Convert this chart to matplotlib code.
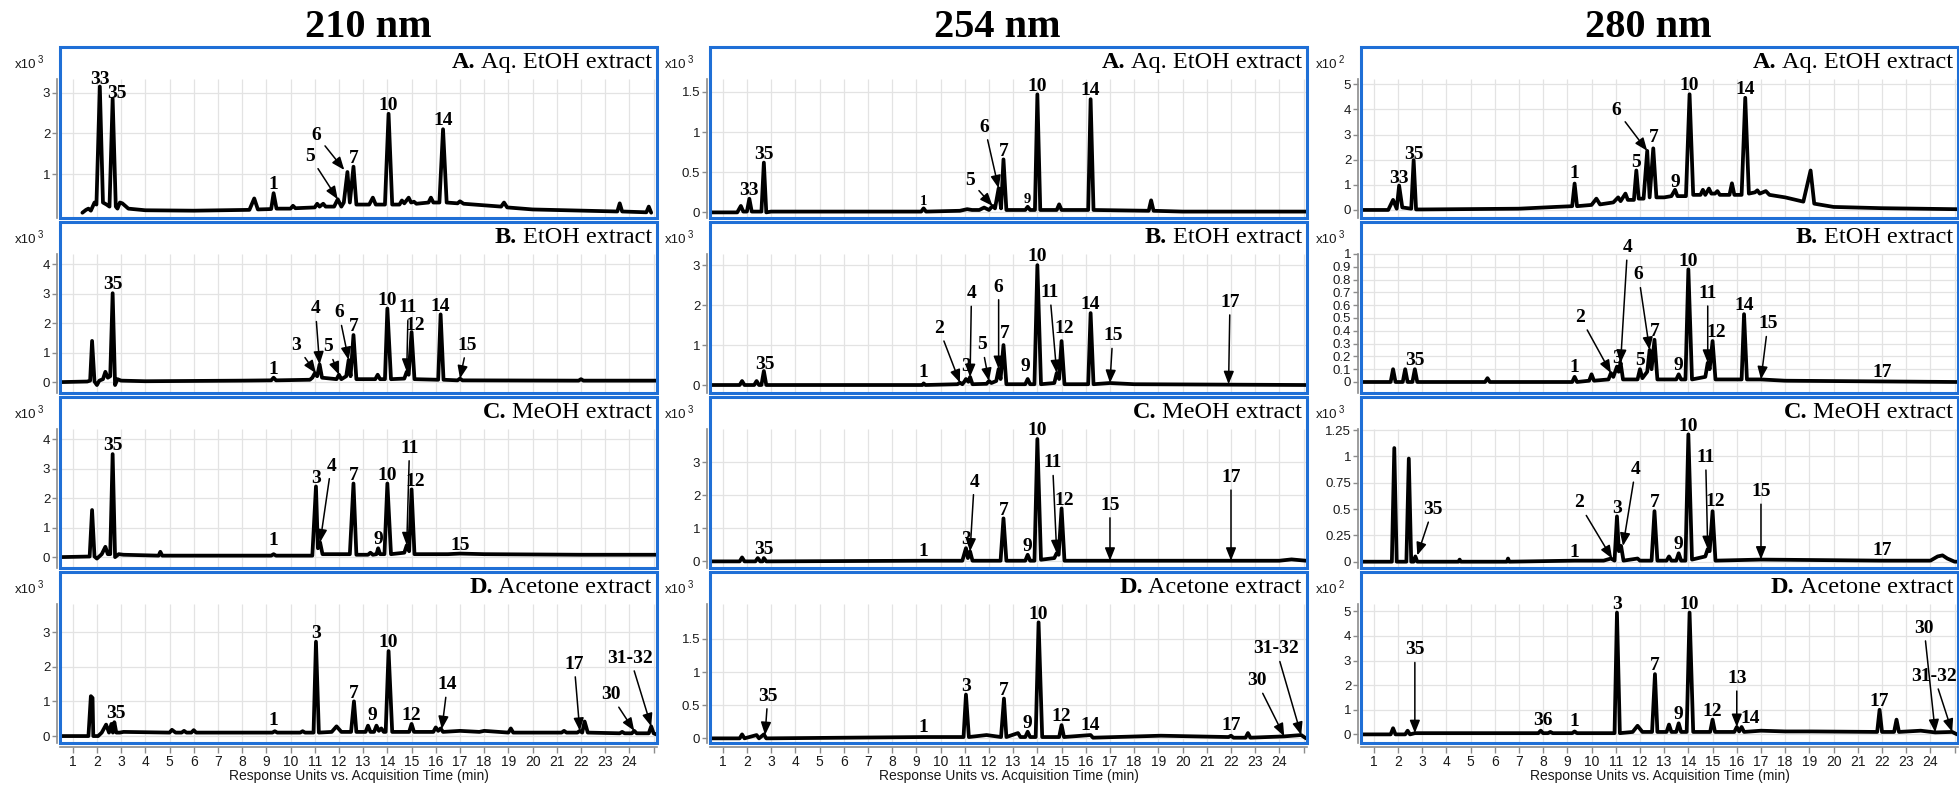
import numpy as np
import matplotlib
matplotlib.use('agg')
import matplotlib.pyplot as plt
from matplotlib.patches import Rectangle

plt.rcParams['font.family'] = 'Liberation Sans'

# ---------------- chromatogram traces: (time min, response) ----------------
# 210 nm
tr_210a = [(1.4, 0.05), (1.55, 0.12), (1.65, 0.15), (1.75, 0.1), (1.9, 0.3), (1.98, 0.25), (2.12, 3.15),
           (2.25, 0.3), (2.4, 0.25), (2.52, 0.2), (2.65, 2.85), (2.78, 0.2), (2.85, 0.15), (2.95, 0.3),
           (3.05, 0.28), (3.3, 0.15), (4, 0.11), (6, 0.1), (8.3, 0.12), (8.5, 0.4), (8.65, 0.13),
           (9.2, 0.14), (9.3, 0.53), (9.42, 0.15), (10.0, 0.15), (10.1, 0.22), (10.2, 0.16), (11.0, 0.18),
           (11.1, 0.27), (11.2, 0.2), (11.35, 0.27), (11.45, 0.2), (11.8, 0.2), (11.95, 0.38), (12.1, 0.2),
           (12.2, 0.3), (12.35, 1.05), (12.45, 0.3), (12.6, 1.18), (12.72, 0.25), (13.25, 0.25),
           (13.4, 0.42), (13.52, 0.25), (13.9, 0.25), (14.05, 2.48), (14.2, 0.25), (14.5, 0.25),
           (14.6, 0.35), (14.7, 0.28), (14.88, 0.42), (14.98, 0.3), (15.1, 0.32), (15.2, 0.27),
           (15.7, 0.3), (15.8, 0.42), (15.9, 0.3), (16.15, 0.3), (16.3, 2.1), (16.45, 0.3), (16.9, 0.28),
           (17.0, 0.33), (17.15, 0.27), (18.7, 0.2), (18.82, 0.3), (18.95, 0.18), (20, 0.13), (23.5, 0.08),
           (23.6, 0.28), (23.7, 0.08), (24.7, 0.06), (24.8, 0.2), (24.9, 0.05)]
tr_210b = [(0.5, 0.0), (1.6, 0.02), (1.72, 0.05), (1.8, 1.4), (1.9, 0.02), (2.0, -0.1), (2.1, 0.05),
           (2.25, 0.1), (2.35, 0.35), (2.45, 0.15), (2.55, 0.2), (2.65, 3.02), (2.75, -0.1), (2.85, 0.1),
           (3.0, 0.05), (4, 0.03), (8, 0.05), (9.2, 0.06), (9.3, 0.15), (9.4, 0.06), (10.8, 0.08),
           (10.9, 0.15), (11.0, 0.3), (11.1, 0.2), (11.2, 0.6), (11.3, 0.15), (11.9, 0.1), (12.0, 0.25),
           (12.1, 0.1), (12.3, 0.2), (12.4, 0.75), (12.48, 0.2), (12.6, 1.6), (12.72, 0.1), (13.5, 0.1),
           (13.6, 0.25), (13.7, 0.1), (13.9, 0.1), (14.0, 2.5), (14.15, 0.1), (14.7, 0.12), (14.8, 0.35),
           (14.88, 0.25), (15.0, 1.7), (15.12, 0.1), (16.1, 0.08), (16.2, 2.3), (16.32, 0.08),
           (16.9, 0.06), (17.0, 0.12), (17.1, 0.06), (21.9, 0.05), (22.0, 0.1), (22.1, 0.05), (25.1, 0.05)]
tr_210c = [(0.5, 0.0), (1.7, 0.02), (1.8, 1.6), (1.9, 0.02), (2.0, -0.05), (2.2, 0.1), (2.35, 0.35),
           (2.45, 0.1), (2.55, 0.1), (2.65, 3.5), (2.75, 0.0), (2.9, 0.1), (3.1, 0.08), (4.55, 0.05),
           (4.62, 0.18), (4.7, 0.05), (8, 0.05), (9.2, 0.05), (9.3, 0.1), (9.4, 0.05), (10.9, 0.05),
           (11.05, 2.4), (11.13, 0.3), (11.22, 0.5), (11.32, 0.1), (12.45, 0.1), (12.6, 2.5),
           (12.72, 0.08), (13.2, 0.08), (13.3, 0.15), (13.4, 0.08), (13.55, 0.1), (13.62, 0.3),
           (13.7, 0.1), (13.88, 0.1), (14.0, 2.5), (14.15, 0.1), (14.7, 0.15), (14.8, 0.4), (14.9, 0.2),
           (15.0, 2.3), (15.12, 0.1), (16.5, 0.1), (17.0, 0.12), (18, 0.1), (22, 0.08), (25.1, 0.08)]
tr_210d = [(0.5, 0.0), (1.65, 0.0), (1.75, 1.15), (1.82, 1.1), (1.85, 0.0), (2.05, 0.0), (2.2, 0.1),
           (2.38, 0.33), (2.5, 0.1), (2.6, 0.35), (2.66, 0.1), (2.72, 0.4), (2.8, 0.1), (2.95, 0.1),
           (3.1, 0.12), (5.0, 0.1), (5.1, 0.18), (5.25, 0.1), (5.5, 0.1), (5.6, 0.15), (5.7, 0.1),
           (5.9, 0.1), (6.0, 0.17), (6.1, 0.1), (9.25, 0.1), (9.35, 0.14), (9.45, 0.1), (10.4, 0.1),
           (10.5, 0.14), (10.6, 0.1), (10.95, 0.1), (11.05, 2.72), (11.17, 0.1), (11.7, 0.12),
           (11.9, 0.28), (12.1, 0.12), (12.5, 0.12), (12.62, 1.0), (12.72, 0.12), (13.1, 0.12),
           (13.2, 0.3), (13.3, 0.12), (13.45, 0.12), (13.55, 0.3), (13.65, 0.15), (13.75, 0.22),
           (13.85, 0.12), (13.93, 0.12), (14.05, 2.45), (14.2, 0.12), (14.9, 0.12), (15.0, 0.35),
           (15.1, 0.12), (15.9, 0.12), (16.0, 0.25), (16.1, 0.15), (16.2, 0.22), (16.3, 0.12),
           (17.0, 0.15), (17.8, 0.12), (18.0, 0.15), (18.6, 0.12), (19.0, 0.1), (19.1, 0.22), (19.2, 0.1),
           (21.2, 0.1), (21.3, 0.15), (21.4, 0.1), (21.85, 0.1), (21.95, 0.15), (22.05, 0.1),
           (22.15, 0.42), (22.28, 0.1), (23.6, 0.08), (23.7, 0.12), (23.8, 0.08), (24.1, 0.08),
           (24.2, 0.15), (24.3, 0.08), (24.8, 0.08), (24.9, 0.28), (25.0, 0.08), (25.1, 0.05)]
# 254 nm
tr_254a = [(0.5, 0.0), (1.6, 0.0), (1.75, 0.08), (1.85, 0.01), (2.0, 0.01), (2.1, 0.17), (2.2, 0.01),
           (2.6, 0.01), (2.7, 0.62), (2.8, 0.0), (3.0, 0.01), (8, 0.01), (9.2, 0.01), (9.3, 0.05),
           (9.4, 0.01), (10.8, 0.02), (11.1, 0.04), (11.3, 0.03), (11.6, 0.03), (11.8, 0.06), (12.0, 0.03),
           (12.15, 0.08), (12.25, 0.05), (12.4, 0.3), (12.5, 0.05), (12.6, 0.66), (12.72, 0.03),
           (13.5, 0.03), (13.6, 0.07), (13.7, 0.03), (13.9, 0.03), (14.0, 1.47), (14.12, 0.03),
           (14.8, 0.03), (14.9, 0.1), (15.0, 0.03), (16.1, 0.03), (16.2, 1.41), (16.32, 0.03),
           (18.6, 0.02), (18.7, 0.15), (18.8, 0.02), (20, 0.01), (25.1, 0.01)]
tr_254b = [(0.5, 0.0), (1.7, 0.0), (1.8, 0.1), (1.9, 0.0), (2.3, 0.0), (2.4, 0.1), (2.5, 0.0), (2.6, 0.0),
           (2.7, 0.35), (2.8, 0.0), (8, 0.0), (9.25, 0.0), (9.3, 0.04), (9.38, 0.0), (10.7, 0.02),
           (10.8, 0.06), (10.9, 0.02), (11.0, 0.1), (11.05, 0.15), (11.15, 0.08), (11.22, 0.2),
           (11.32, 0.02), (11.9, 0.03), (12.0, 0.1), (12.1, 0.05), (12.3, 0.1), (12.4, 0.4), (12.48, 0.15),
           (12.6, 1.0), (12.72, 0.02), (13.5, 0.02), (13.6, 0.15), (13.7, 0.02), (13.88, 0.02),
           (14.0, 3.0), (14.15, 0.02), (14.7, 0.05), (14.8, 0.3), (14.9, 0.15), (15.0, 1.1), (15.12, 0.02),
           (16.1, 0.02), (16.2, 1.8), (16.32, 0.02), (17.0, 0.05), (18, 0.02), (25.1, 0.0)]
tr_254c = [(0.5, 0.0), (1.7, 0.0), (1.8, 0.12), (1.9, 0.0), (2.35, 0.0), (2.45, 0.1), (2.55, 0.0),
           (2.65, 0.0), (2.7, 0.1), (2.8, 0.0), (9.3, 0.02), (10.9, 0.02), (11.05, 0.4), (11.13, 0.1),
           (11.22, 0.3), (11.32, 0.02), (12.48, 0.02), (12.6, 1.3), (12.72, 0.02), (13.5, 0.02),
           (13.6, 0.2), (13.7, 0.02), (13.88, 0.02), (14.0, 3.7), (14.15, 0.05), (14.7, 0.1), (14.8, 0.25),
           (14.88, 0.2), (15.0, 1.6), (15.12, 0.02), (17, 0.02), (24.0, 0.02), (24.5, 0.06), (24.8, 0.04),
           (25.1, 0.02)]
tr_254d = [(0.5, 0.0), (1.7, 0.0), (1.8, 0.06), (1.9, 0.0), (2.4, 0.05), (2.5, 0.0), (2.7, 0.06),
           (2.8, 0.0), (9.3, 0.02), (10.95, 0.02), (11.05, 0.66), (11.17, 0.02), (11.9, 0.05),
           (12.5, 0.02), (12.62, 0.6), (12.72, 0.02), (13.2, 0.08), (13.3, 0.02), (13.5, 0.02),
           (13.6, 0.1), (13.7, 0.02), (13.93, 0.02), (14.05, 1.75), (14.2, 0.02), (14.9, 0.02),
           (15.0, 0.2), (15.1, 0.02), (16.2, 0.05), (16.3, 0.01), (19.1, 0.04), (21.9, 0.02), (22.0, 0.04),
           (22.1, 0.01), (22.6, 0.01), (22.7, 0.08), (22.8, 0.01), (24.2, 0.03), (24.9, 0.05), (25.1, 0.0)]
# 280 nm
tr_280a = [(0.5, 0.0), (1.6, 0.0), (1.8, 0.4), (1.95, 0.05), (2.05, 0.97), (2.18, 0.1), (2.55, 0.05),
           (2.65, 1.98), (2.75, 0.02), (3.0, 0.02), (7, 0.05), (8.5, 0.12), (9.2, 0.15), (9.3, 1.05),
           (9.4, 0.15), (10.0, 0.2), (10.2, 0.45), (10.35, 0.22), (10.9, 0.3), (11.1, 0.5), (11.2, 0.35),
           (11.4, 0.65), (11.5, 0.4), (11.75, 0.4), (11.85, 1.57), (11.95, 0.45), (12.15, 0.45),
           (12.3, 2.35), (12.4, 0.5), (12.55, 2.45), (12.68, 0.5), (13.0, 0.5), (13.3, 0.55),
           (13.45, 0.8), (13.55, 0.55), (13.9, 0.55), (14.05, 4.6), (14.2, 0.6), (14.5, 0.6), (14.6, 0.8),
           (14.7, 0.6), (14.85, 0.85), (14.95, 0.65), (15.1, 0.65), (15.2, 0.75), (15.3, 0.6), (15.7, 0.6),
           (15.8, 1.06), (15.9, 0.6), (16.2, 0.6), (16.35, 4.46), (16.5, 0.65), (16.75, 0.7),
           (16.85, 0.78), (16.95, 0.65), (17.2, 0.75), (17.35, 0.6), (18.0, 0.5), (18.75, 0.33),
           (19.05, 1.57), (19.2, 0.25), (20, 0.12), (22, 0.07), (25.1, 0.03)]
tr_280b = [(0.5, 0.0), (1.7, 0.0), (1.8, 0.1), (1.9, 0.0), (2.2, 0.0), (2.3, 0.1), (2.4, 0.0), (2.6, 0.0),
           (2.7, 0.1), (2.8, 0.0), (5.6, 0.0), (5.7, 0.03), (5.8, 0.0), (9.2, 0.0), (9.3, 0.04), (9.4, 0.0),
           (9.9, 0.01), (10.0, 0.06), (10.1, 0.01), (10.7, 0.02), (10.8, 0.07), (10.9, 0.04),
           (11.05, 0.12), (11.12, 0.08), (11.2, 0.15), (11.3, 0.02), (11.9, 0.02), (12.0, 0.1),
           (12.1, 0.03), (12.3, 0.08), (12.4, 0.25), (12.48, 0.1), (12.6, 0.33), (12.72, 0.02),
           (13.5, 0.02), (13.6, 0.06), (13.7, 0.02), (13.88, 0.02), (14.0, 0.88), (14.15, 0.02),
           (14.7, 0.04), (14.8, 0.15), (14.88, 0.1), (15.0, 0.32), (15.12, 0.02), (16.2, 0.02),
           (16.3, 0.53), (16.42, 0.02), (17.0, 0.02), (18, 0.01), (25.1, 0.0)]
tr_280c = [(0.5, 0.0), (1.75, 0.0), (1.85, 1.08), (1.95, 0.0), (2.35, 0.0), (2.45, 0.98), (2.55, 0.0),
           (2.65, 0.0), (2.72, 0.05), (2.8, 0.0), (4.5, 0.0), (4.55, 0.02), (4.6, 0.0), (6.5, 0.0),
           (6.55, 0.03), (6.6, 0.0), (9.3, 0.01), (10.5, 0.01), (10.8, 0.03), (10.95, 0.01), (11.05, 0.43),
           (11.13, 0.1), (11.22, 0.15), (11.32, 0.01), (11.9, 0.03), (12.0, 0.01), (12.48, 0.01),
           (12.6, 0.48), (12.72, 0.01), (13.1, 0.01), (13.2, 0.05), (13.3, 0.01), (13.5, 0.01),
           (13.6, 0.08), (13.7, 0.01), (13.88, 0.01), (14.0, 1.21), (14.15, 0.02), (14.7, 0.05),
           (14.8, 0.12), (14.88, 0.1), (15.0, 0.48), (15.12, 0.01), (17.0, 0.02), (22.0, 0.01),
           (24.0, 0.01), (24.3, 0.05), (24.5, 0.06), (24.7, 0.03), (25.0, 0.0), (25.1, 0.0)]
tr_280d = [(0.5, 0.0), (1.7, 0.0), (1.8, 0.25), (1.9, 0.0), (2.3, 0.0), (2.4, 0.15), (2.5, 0.0),
           (2.7, 0.05), (7.8, 0.05), (7.9, 0.15), (8.0, 0.05), (8.2, 0.05), (8.3, 0.1), (8.4, 0.05),
           (9.2, 0.05), (9.3, 0.12), (9.4, 0.05), (10.95, 0.05), (11.05, 4.95), (11.17, 0.05), (11.7, 0.1),
           (11.9, 0.35), (12.1, 0.1), (12.5, 0.1), (12.62, 2.45), (12.72, 0.1), (13.1, 0.1), (13.2, 0.4),
           (13.3, 0.1), (13.5, 0.1), (13.6, 0.45), (13.7, 0.1), (13.93, 0.1), (14.05, 4.95), (14.2, 0.1),
           (14.9, 0.1), (15.0, 0.6), (15.1, 0.1), (15.9, 0.1), (16.0, 0.3), (16.1, 0.12), (16.2, 0.3),
           (16.3, 0.1), (17.0, 0.15), (18.0, 0.12), (19.1, 0.12), (21.8, 0.1), (21.9, 1.0), (22.0, 0.1),
           (22.5, 0.1), (22.6, 0.6), (22.7, 0.1), (23.6, 0.15), (24.2, 0.08), (24.9, 0.1), (25.1, 0.0)]

# ---------------- peak labels: (compound no., time, response at label target) ----------------
pk_210a = [('33', 2.12, 3.15), ('35', 2.65, 2.85), ('1', 9.3, 0.53), ('5', 11.95, 0.38),
           ('6', 12.22, 1.1), ('7', 12.6, 1.18), ('10', 14.05, 2.48), ('14', 16.3, 2.1)]
pk_210b = [('35', 2.65, 3.02), ('1', 9.3, 0.15), ('3', 11.05, 0.3), ('4', 11.2, 0.6), ('5', 12.0, 0.25),
           ('6', 12.4, 0.75), ('7', 12.6, 1.6), ('10', 14.0, 2.5), ('11', 14.8, 0.35), ('12', 15.0, 1.7),
           ('14', 16.2, 2.3), ('15', 17.0, 0.12)]
pk_210c = [('35', 2.65, 3.5), ('1', 9.3, 0.1), ('3', 11.05, 2.4), ('4', 11.22, 0.5), ('7', 12.6, 2.5),
           ('9', 13.62, 0.3), ('10', 14.0, 2.5), ('11', 14.8, 0.4), ('12', 15.0, 2.3), ('15', 17.0, 0.12)]
pk_210d = [('35', 2.72, 0.4), ('1', 9.3, 0.14), ('3', 11.05, 2.72), ('7', 12.62, 1.0), ('9', 13.55, 0.3),
           ('10', 14.05, 2.45), ('12', 15.0, 0.35), ('14', 16.25, 0.2), ('17', 21.95, 0.15),
           ('30', 24.2, 0.15), ('31-32', 24.9, 0.28)]
pk_254a = [('33', 2.1, 0.17), ('35', 2.7, 0.62), ('1', 9.3, 0.05), ('5', 12.15, 0.08), ('6', 12.4, 0.3),
           ('7', 12.6, 0.66), ('9', 13.6, 0.07), ('10', 14.0, 1.47), ('14', 16.2, 1.41)]
pk_254b = [('35', 2.7, 0.35), ('1', 9.3, 0.04), ('2', 10.8, 0.06), ('3', 11.05, 0.15), ('4', 11.22, 0.2),
           ('5', 12.0, 0.1), ('6', 12.4, 0.4), ('7', 12.6, 1.0), ('9', 13.6, 0.15), ('10', 14.0, 3.0),
           ('11', 14.8, 0.3), ('12', 15.0, 1.1), ('14', 16.2, 1.8), ('15', 17.0, 0.05), ('17', 21.9, 0.02)]
pk_254c = [('35', 2.7, 0.1), ('1', 9.3, 0.02), ('3', 11.05, 0.4), ('4', 11.22, 0.3), ('7', 12.6, 1.3),
           ('9', 13.6, 0.2), ('10', 14.0, 3.7), ('11', 14.8, 0.25), ('12', 15.0, 1.6), ('15', 17.0, 0.02),
           ('17', 22.0, 0.02)]
pk_254d = [('35', 2.75, 0.05), ('1', 9.3, 0.02), ('3', 11.05, 0.66), ('7', 12.62, 0.6), ('9', 13.6, 0.1),
           ('10', 14.05, 1.75), ('12', 15.0, 0.2), ('14', 16.2, 0.05), ('17', 22.0, 0.04), ('30', 24.2, 0.03),
           ('31-32', 24.9, 0.05)]
pk_280a = [('33', 2.05, 0.97), ('35', 2.65, 1.98), ('1', 9.3, 1.05), ('5', 11.85, 1.57), ('6', 12.3, 2.35),
           ('7', 12.55, 2.45), ('9', 13.45, 0.8), ('10', 14.05, 4.6), ('14', 16.35, 4.46)]
pk_280b = [('35', 2.7, 0.1), ('1', 9.3, 0.04), ('2', 10.8, 0.07), ('3', 11.05, 0.12), ('4', 11.2, 0.15),
           ('5', 12.0, 0.1), ('6', 12.4, 0.25), ('7', 12.6, 0.33), ('9', 13.6, 0.06), ('10', 14.0, 0.88),
           ('11', 14.8, 0.15), ('12', 15.0, 0.32), ('14', 16.3, 0.53), ('15', 17.0, 0.02), ('17', 22.0, 0.0)]
pk_280c = [('35', 2.8, 0.06), ('1', 9.3, 0.01), ('2', 10.85, 0.03), ('3', 11.05, 0.43), ('4', 11.3, 0.15),
           ('7', 12.6, 0.48), ('9', 13.6, 0.08), ('10', 14.0, 1.21), ('11', 14.8, 0.12), ('12', 15.0, 0.48),
           ('15', 17.0, 0.02), ('17', 22.0, 0.01)]
pk_280d = [('35', 2.7, 0.05), ('36', 8.0, 0.15), ('1', 9.3, 0.12), ('3', 11.05, 4.95), ('7', 12.62, 2.45),
           ('9', 13.6, 0.45), ('10', 14.05, 4.95), ('12', 15.0, 0.6), ('13', 16.0, 0.3), ('14', 16.2, 0.3),
           ('17', 21.9, 1.0), ('30', 24.2, 0.08), ('31-32', 24.9, 0.1)]

# y ticks and scale exponent of each panel
yt_210 = [[1, 2, 3], [0, 1, 2, 3, 4], [0, 1, 2, 3, 4], [0, 1, 2, 3]]
yt_254 = [[0, 0.5, 1, 1.5], [0, 1, 2, 3], [0, 1, 2, 3], [0, 0.5, 1, 1.5]]
yt_280 = [[0, 1, 2, 3, 4, 5], [0, 0.1, 0.2, 0.3, 0.4, 0.5, 0.6, 0.7, 0.8, 0.9, 1],
          [0, 0.25, 0.5, 0.75, 1, 1.25], [0, 1, 2, 3, 4, 5]]
exp_210 = [3, 3, 3, 3]
exp_254 = [3, 3, 3, 3]
exp_280 = [2, 3, 3, 2]

wavelengths = ['210 nm', '254 nm', '280 nm']
titles = [('A.', 'Aq. EtOH extract'), ('B.', 'EtOH extract'), ('C.', 'MeOH extract'), ('D.', 'Acetone extract')]

# ---------------- layout (pixels / points) ----------------
W, H = 1959, 786
box_left = [60, 710, 1361]
box_top = [47, 222, 397, 572]
BW, BH = 597, 171
XLIM = (0.475, 25.14)
head_x = [368, 997, 1648]
ylims = [[(-0.08, 4.12), (-0.37, 5.44), (-0.37, 5.44), (-0.2, 4.73)],
         [(-0.07, 2.06), (-0.2, 4.08), (-0.2, 4.97), (-0.07, 2.51)],
         [(-0.32, 6.48), (-0.086, 1.25), (-0.06, 1.565), (-0.35, 6.6)]]

# label placement: label -> (dx pt, dy pt, arrow[, fontsize]); unlisted labels sit just above their peak
place = {
    (0, 0): {'35': (3, 4, False), '33': (0, 5, False), '5': (-20, 31, True), '6': (-20, 25, True)},
    (0, 1): {'3': (-14, 20, True), '4': (-3, 40, True), '5': (-8, 20, True), '6': (-7, 34, True),
             '11': (1, 46, True), '12': (3, 5, False), '15': (5, 24, True)},
    (0, 2): {'1': (0, 10, False), '4': (8, 55, True), '11': (2, 70, True), '12': (3, 6, False)},
    (0, 3): {'35': (1, 6, False), '1': (0, 8, False), '9': (-3, 7, False), '14': (4, 32, True),
             '17': (-4, 48, True), '30': (-17, 26, True), '31-32': (-15, 49, True)},
    (1, 0): {'1': (0, 5, False, 10.5), '9': (0, 5, False, 10.5), '5': (-16, 18, True),
             '6': (-10, 44, True)},
    (1, 1): {'35': (1, 5, False), '1': (0, 8, False), '2': (-15, 39, True), '3': (0, 9, False),
             '4': (1, 60, True), '5': (-5, 26, True), '6': (0, 59, True), '7': (1, 8, False),
             '9': (-2, 9, False), '11': (-5, 58, True), '12': (2, 9, False), '15': (2, 34, True),
             '17': (1, 59, True)},
    (1, 2): {'1': (0, 7, False), '4': (3, 50, True), '11': (-3, 65, True), '12': (2, 6, False),
             '15': (0, 40, True), '17': (0, 60, True)},
    (1, 3): {'35': (2, 28, True), '1': (0, 7, False), '14': (0, 7, False), '17': (0, 7, False),
             '30': (-20, 40, True), '31-32': (-18, 62, True)},
    (2, 0): {'33': (0, 5, False), '35': (0, 4, False), '1': (0, 7, False), '6': (-22, 29, True),
             '7': (0, 8, False), '9': (0, 5, False)},
    (2, 1): {'1': (0, 7, False), '2': (-22, 40, True), '4': (5, 83, True), '6': (-8, 54, True),
             '11': (0, 50, True), '12': (3, 6, False), '15': (5, 40, True), '17': (0, 7, False)},
    (2, 2): {'35': (11, 33, True), '1': (0, 6, False), '2': (-24, 40, True), '4': (9, 55, True),
             '11': (-1.5, 66, True), '12': (2, 7, False), '15': (0, 49, True), '17': (0, 7, False)},
    (2, 3): {'35': (0, 60, True), '36': (0, 7, False), '1': (0, 7, False), '13': (0, 35, True),
             '14': (6, 6, False), '30': (-8, 75, True), '31-32': (-13, 40, True)},
}

traces = [[tr_210a, tr_210b, tr_210c, tr_210d], [tr_254a, tr_254b, tr_254c, tr_254d],
          [tr_280a, tr_280b, tr_280c, tr_280d]]
peaks = [[pk_210a, pk_210b, pk_210c, pk_210d], [pk_254a, pk_254b, pk_254c, pk_254d],
         [pk_280a, pk_280b, pk_280c, pk_280d]]
yticks = [yt_210, yt_254, yt_280]
exps = [exp_210, exp_254, exp_280]

GRID = '#e3e3e3'
AXC = '#8c8c8c'
BLUE = '#1f6fd6'

fig = plt.figure(figsize=(W / 100, H / 100), dpi=100)

for c in range(3):
    for r in range(4):
        L, T = box_left[c], box_top[r]
        ax = fig.add_axes([L / W, 1 - (T + BH) / H, BW / W, BH / H])
        lo, hi = ylims[c][r]
        top = lo + 0.815 * (hi - lo)
        ax.set_xlim(*XLIM)
        ax.set_ylim(lo, hi)

        ax.vlines(np.arange(1, 26), lo, top, color=GRID, lw=0.9, zorder=0)
        ax.hlines(yticks[c][r], XLIM[0], XLIM[1], color=GRID, lw=0.9, zorder=0)

        t, y = zip(*traces[c][r])
        ax.plot(t, y, color='k', lw=2.7, solid_joinstyle='round', solid_capstyle='round', zorder=2)

        # axes
        for s in ['top', 'right', 'bottom']:
            ax.spines[s].set_visible(False)
        ax.spines['left'].set_position(('outward', 2))
        ax.spines['left'].set_color(AXC)
        ax.spines['left'].set_linewidth(1.2)
        ax.spines['left'].set_bounds(lo, top)
        ax.set_yticks(yticks[c][r])
        ax.set_yticklabels(['%g' % v for v in yticks[c][r]])
        ax.tick_params(axis='y', length=3.5, width=1, color=AXC, pad=1.5, labelsize=9.5,
                       labelcolor='#1a1a1a')
        if r == 3:
            ax.spines['bottom'].set_visible(True)
            ax.spines['bottom'].set_position(('outward', 3))
            ax.spines['bottom'].set_color(AXC)
            ax.spines['bottom'].set_linewidth(1.2)
            ax.set_xticks(range(1, 26))
            ax.set_xticklabels([str(i) for i in range(1, 25)] + [''])
            ax.tick_params(axis='x', length=4, width=1, color=AXC, pad=2, labelsize=10,
                           labelcolor='#1a1a1a')
        else:
            ax.set_xticks([])

        ax.add_patch(Rectangle((0, 0), 1, 1, transform=ax.transAxes, fill=False, ec=BLUE, lw=2.2,
                               clip_on=False, zorder=6))

        # scale factor
        ax.text(-45 / BW, 1 - 18 / BH, 'x10', transform=ax.transAxes, fontsize=9.5, ha='left',
                va='center', color='#1a1a1a')
        ax.text(-22 / BW, 1 - 13 / BH, str(exps[c][r]), transform=ax.transAxes, fontsize=7, ha='left',
                va='center', color='#1a1a1a')

        # panel title: regular name, bold letter placed one space to its left
        letter, name = titles[r]
        ttl = ax.text(1 - 5 / BW, 1 - 21 / BH, name, transform=ax.transAxes, ha='right', va='baseline',
                      fontsize=17.5, family='Liberation Serif', zorder=7)
        ax.annotate(letter, xy=(0, 0), xycoords=ttl, xytext=(-4.2, 0), textcoords='offset points',
                    ha='right', va='bottom', fontsize=17.5, fontweight='bold', family='Liberation Serif',
                    zorder=7)

        # peak labels
        pl = place[(c, r)]
        for lab, px, py in peaks[c][r]:
            spec = pl.get(lab, (0, 6, False))
            dx, dy, arrow = spec[:3]
            fs = spec[3] if len(spec) > 3 else 14
            kw = {}
            if arrow:
                kw['arrowprops'] = dict(arrowstyle='-|>,head_length=0.55,head_width=0.22', lw=1.1,
                                        color='k', shrinkA=1, shrinkB=0)
            ax.annotate(lab, xy=(px, py), xytext=(dx, dy), textcoords='offset points', ha='center',
                        va='center', fontsize=fs, fontweight='bold', family='Liberation Serif',
                        annotation_clip=False, zorder=4, **kw)

    # column header and x label
    fig.text(head_x[c] / W, 1 - 37 / H, wavelengths[c], ha='center', va='baseline',
             fontsize=29, fontweight='bold', family='Liberation Serif')
    fig.text((box_left[c] + BW / 2) / W, 1 - 776 / H, 'Response Units vs. Acquisition Time (min)',
             ha='center', va='center', fontsize=10, color='#1a1a1a')

fig.savefig('out.png', dpi=100)
